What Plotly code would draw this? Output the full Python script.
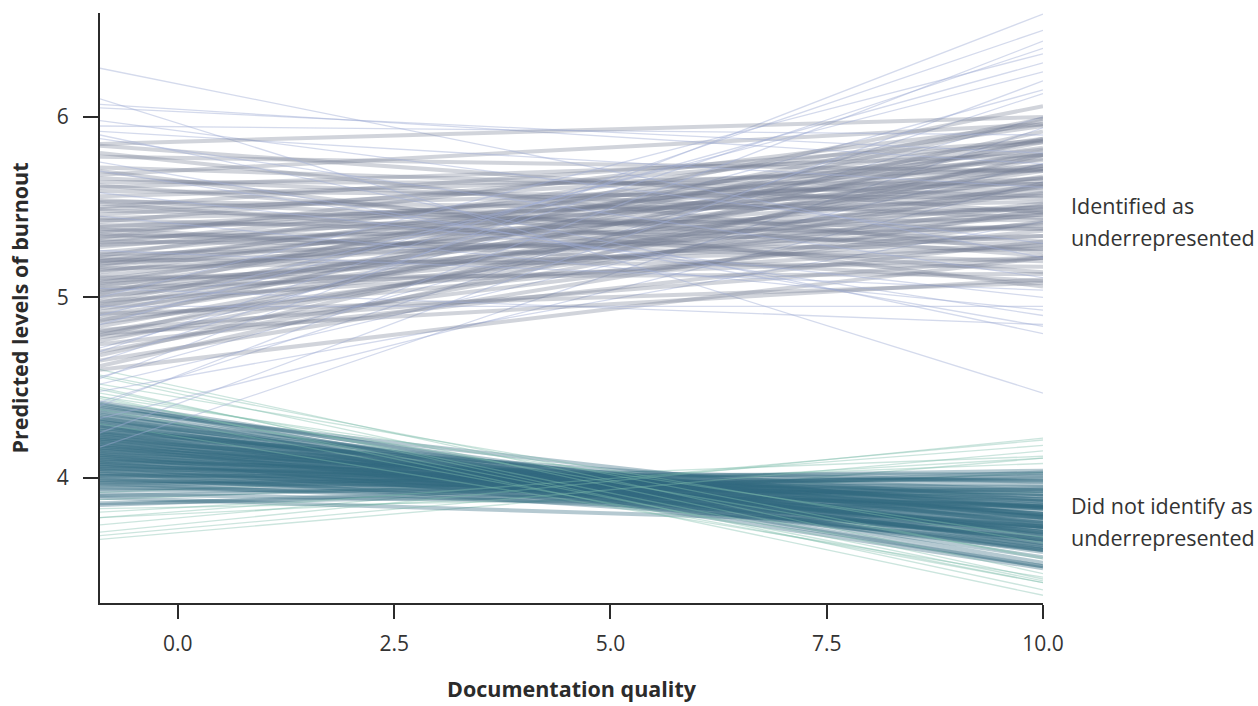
import plotly.graph_objects as go

# x span of every posterior line (left edge of axis to right edge)
x_span = [-0.9, 10.0]

# Identified as underrepresented: predicted burnout at x=-0.9 and at x=10
ident_left = [4.17, 4.33, 4.42, 4.48, 4.52, 4.56, 4.60, 4.62, 4.65, 4.68,
              4.70, 4.72, 4.74, 4.76, 4.78, 4.79, 4.81, 4.82, 4.84, 4.86,
              4.87, 4.88, 4.90, 4.91, 4.92, 4.94, 4.95, 4.96, 4.97, 4.98,
              5.00, 5.01, 5.02, 5.03, 5.04, 5.05, 5.06, 5.07, 5.08, 5.09,
              5.10, 5.11, 5.12, 5.14, 5.15, 5.16, 5.17, 5.18, 5.19, 5.20,
              5.20, 5.21, 5.22, 5.23, 5.24, 5.25, 5.26, 5.28, 5.29, 5.30,
              5.31, 5.32, 5.33, 5.34, 5.35, 5.36, 5.37, 5.38, 5.39, 5.40,
              5.42, 5.43, 5.44, 5.45, 5.46, 5.48, 5.49, 5.50, 5.52, 5.53,
              5.54, 5.56, 5.58, 5.59, 5.61, 5.62, 5.64, 5.66, 5.68, 5.70,
              5.72, 5.75, 5.78, 5.80, 5.84, 5.88, 5.92, 5.98, 6.07, 6.27,
              4.55, 4.70, 4.40, 4.85, 6.10, 4.25, 4.95, 5.05, 4.80, 5.95,
              5.85, 6.05, 4.65, 4.90, 5.00, 5.90, 5.70]
ident_right = [5.94, 5.64, 6.13, 5.42, 5.74, 6.00, 5.22, 5.79, 5.49, 5.88,
               5.62, 6.15, 5.31, 5.73, 5.42, 5.92, 5.63, 5.22, 5.77, 5.51,
               5.98, 5.37, 5.67, 5.08, 5.81, 5.46, 5.86, 5.58, 5.99, 5.29,
               5.70, 5.41, 6.06, 5.52, 5.61, 5.22, 5.79, 5.46, 5.87, 5.34,
               5.71, 5.13, 5.65, 5.83, 5.47, 5.27, 5.73, 5.88, 5.40, 5.50,
               5.79, 5.17, 5.57, 5.95, 5.34, 5.66, 5.04, 5.71, 5.50, 5.82,
               5.27, 5.59, 5.96, 5.38, 5.20, 5.73, 5.61, 5.09, 5.66, 5.43,
               5.86, 5.29, 5.53, 4.93, 5.76, 5.38, 5.63, 5.87, 5.14, 5.48,
               5.31, 5.71, 5.00, 5.55, 5.79, 5.23, 5.63, 5.44, 5.96, 5.06,
               5.56, 4.84, 5.70, 5.25, 5.47, 5.11, 5.61, 5.30, 5.74, 5.22,
               6.57, 6.48, 6.42, 6.30, 4.47, 6.20, 4.95, 4.85, 5.10, 5.90,
               6.00, 5.80, 6.38, 6.25, 6.35, 4.80, 4.90]

# Did not identify as underrepresented
other_left = [3.66, 3.74, 3.78, 3.81, 3.83, 3.85, 3.86, 3.88, 3.89, 3.90,
              3.91, 3.92, 3.93, 3.94, 3.95, 3.96, 3.97, 3.97, 3.98, 3.99,
              3.99, 4.00, 4.01, 4.01, 4.02, 4.02, 4.03, 4.04, 4.04, 4.05,
              4.05, 4.06, 4.06, 4.07, 4.07, 4.08, 4.08, 4.09, 4.09, 4.10,
              4.10, 4.11, 4.11, 4.12, 4.12, 4.13, 4.13, 4.14, 4.14, 4.15,
              4.15, 4.16, 4.16, 4.17, 4.17, 4.18, 4.18, 4.19, 4.19, 4.20,
              4.20, 4.21, 4.21, 4.22, 4.22, 4.23, 4.23, 4.24, 4.24, 4.25,
              4.25, 4.26, 4.26, 4.27, 4.28, 4.28, 4.29, 4.29, 4.30, 4.31,
              4.31, 4.32, 4.33, 4.33, 4.34, 4.35, 4.36, 4.37, 4.38, 4.39,
              4.40, 4.41, 4.42, 4.44, 4.45, 4.47, 4.49, 4.52, 4.56, 4.60,
              4.45, 4.50, 4.38, 4.30, 3.70, 3.78, 4.57, 3.68]
other_right = [4.11, 4.21, 4.03, 4.11, 3.92, 4.03, 3.94, 4.08, 3.73, 4.01,
               3.83, 4.12, 3.93, 4.00, 3.85, 4.04, 3.95, 3.75, 3.99, 3.84,
               3.90, 3.77, 4.02, 3.93, 3.84, 3.96, 3.68, 3.88, 3.79, 3.98,
               3.82, 3.90, 3.70, 3.87, 3.91, 3.72, 3.78, 3.98, 3.84, 3.73,
               3.91, 3.80, 3.87, 3.63, 3.84, 3.73, 3.93, 3.80, 3.66, 3.86,
               3.76, 3.72, 3.88, 3.83, 3.66, 3.73, 3.85, 3.78, 3.60, 3.80,
               3.66, 3.84, 3.70, 3.80, 3.61, 3.73, 3.70, 3.88, 3.65, 3.75,
               3.60, 3.83, 3.68, 3.78, 3.64, 3.75, 3.50, 3.69, 3.59, 3.78,
               3.62, 3.70, 3.51, 3.64, 3.74, 3.56, 3.66, 3.51, 3.79, 3.60,
               3.68, 3.53, 3.62, 3.42, 3.67, 3.56, 3.43, 3.64, 3.44, 3.47,
               3.35, 3.38, 3.42, 3.45, 4.22, 4.18, 3.55, 4.15]

FONT = "Open Sans"
INK = "#2b2b2b"

fig = go.Figure()

# teal group first, grey group drawn on top of it
for l, r in zip(other_left, other_right):
    outer = l > 4.42 or l < 3.85 or r > 4.05 or r < 3.5
    if outer:
        ln = dict(color="rgba(128,190,172,0.4)", width=1.3)
    else:
        ln = dict(color="rgba(50,105,127,0.36)", width=4)
    fig.add_trace(go.Scatter(x=x_span, y=[l, r], mode="lines", line=ln,
                             hoverinfo="skip", showlegend=False))

for l, r in zip(ident_left, ident_right):
    outer = l > 5.85 or l < 4.6 or r > 6.1 or r < 5.05
    if outer:
        ln = dict(color="rgba(160,174,212,0.45)", width=1.3)
    else:
        ln = dict(color="rgba(114,123,146,0.33)", width=4)
    fig.add_trace(go.Scatter(x=x_span, y=[l, r], mode="lines", line=ln,
                             hoverinfo="skip", showlegend=False))

labels = [("Identified as", 5.512), ("underrepresented", 5.33),
          ("Did not identify as", 3.85), ("underrepresented", 3.668)]
for txt, yv in labels:
    fig.add_annotation(text=txt, xref="paper", yref="y", x=1.028, y=yv,
                       xanchor="left", yanchor="middle", showarrow=False,
                       font=dict(family=FONT, size=21.5, color="#333"))

axis_style = dict(showline=True, linecolor=INK, linewidth=2, ticks="outside",
                  tickwidth=2, tickcolor=INK, showgrid=False, zeroline=False,
                  tickfont=dict(family=FONT, size=21, color="#333"))

fig.update_xaxes(range=[-0.9, 10.0], tickvals=[0, 2.5, 5, 7.5, 10],
                 tickformat=".1f", ticklen=14, ticklabelstandoff=7,
                 title=dict(text="<b>Documentation quality</b>", standoff=26,
                            font=dict(family=FONT, size=21.5, color=INK)),
                 **axis_style)
fig.update_yaxes(range=[3.307, 6.576], tickvals=[4, 5, 6], ticklen=15,
                 ticklabelstandoff=10,
                 title=dict(text="<b>Predicted levels of burnout</b>", standoff=22,
                            font=dict(family=FONT, size=21.5, color=INK)),
                 **axis_style)

fig.update_layout(width=1258, height=706, plot_bgcolor="white",
                  paper_bgcolor="white",
                  margin=dict(l=100, r=215, t=13, b=103, autoexpand=False))

# drop the browser's default body margin so the figure sits at 0,0
fig.write_html("out.html", config={"displayModeBar": False},
               post_script="document.body.style.margin='0';")
